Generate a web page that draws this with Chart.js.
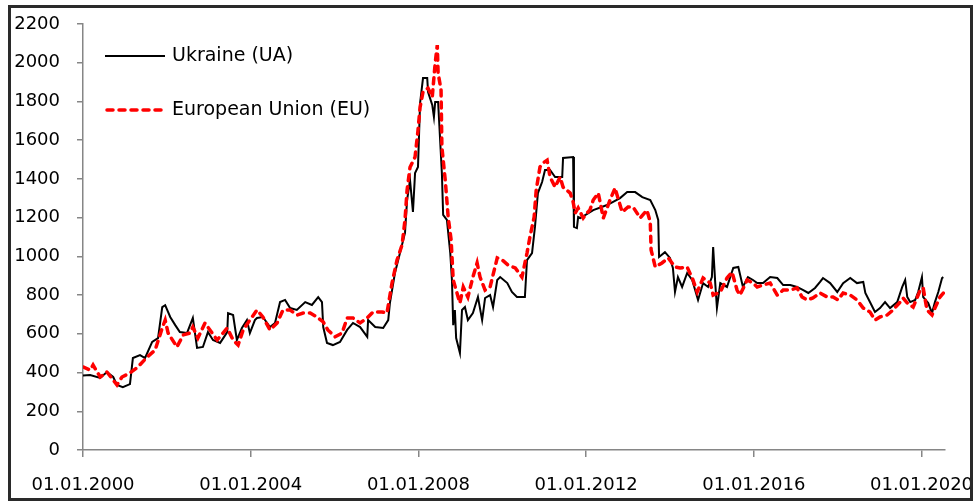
<!DOCTYPE html>
<html>
<head>
<meta charset="utf-8">
<script src="https://cdn.jsdelivr.net/npm/chart.js@4.4.1/dist/chart.umd.min.js"></script>
<style>
  html, body { margin: 0; padding: 0; background: #fff; }
  #wrap { width: 974px; height: 502px; }
</style>
</head>
<body>
<div id="wrap"><canvas id="grafica" width="974" height="502"></canvas></div>
<script>
// === DATOS ===
// fechas en años decimales
const fechasUA = [2000.00,2000.17,2000.41,2000.57,2000.72,2000.81,2000.95,2001.12,2001.19,2001.36,
  2001.48,2001.65,2001.79,2001.89,2001.96,2002.08,2002.20,2002.31,2002.48,2002.62,
  2002.72,2002.86,2002.98,2003.10,2003.27,2003.44,2003.46,2003.58,2003.67,2003.79,
  2003.91,2003.98,2004.10,2004.15,2004.29,2004.46,2004.58,2004.70,2004.82,2004.94,
  2005.10,2005.30,2005.46,2005.61,2005.70,2005.73,2005.82,2005.96,2006.13,2006.30,
  2006.44,2006.61,2006.78,2006.80,2006.97,2007.16,2007.28,2007.32,2007.44,2007.56,
  2007.68,2007.73,2007.80,2007.87,2007.92,2007.99,2008.04,2008.11,2008.21,2008.23,
  2008.33,2008.37,2008.40,2008.47,2008.56,2008.59,2008.68,2008.76,2008.80,2008.83,
  2008.87,2008.90,2008.99,2009.04,2009.11,2009.18,2009.30,2009.42,2009.52,2009.59,
  2009.71,2009.78,2009.88,2009.95,2010.12,2010.23,2010.35,2010.54,2010.59,2010.71,
  2010.78,2010.85,2010.95,2011.02,2011.14,2011.26,2011.43,2011.45,2011.69,2011.71,
  2011.78,2011.81,2011.86,2012.17,2012.50,2012.81,2012.98,2013.17,2013.34,2013.53,
  2013.65,2013.72,2013.74,2013.88,2014.00,2014.07,2014.12,2014.19,2014.29,2014.41,
  2014.53,2014.67,2014.79,2014.91,2015.00,2015.03,2015.08,2015.12,2015.20,2015.36,
  2015.51,2015.63,2015.74,2015.86,2015.98,2016.08,2016.22,2016.39,2016.56,2016.70,
  2016.87,2017.03,2017.18,2017.30,2017.46,2017.58,2017.65,2017.82,2017.99,2018.13,
  2018.30,2018.46,2018.61,2018.66,2018.77,2018.89,2019.01,2019.13,2019.25,2019.42,
  2019.54,2019.61,2019.66,2019.73,2019.85,2019.92,2020.01,2020.04,2020.16,2020.25,
  2020.32,2020.40,2020.49,2020.52];
const valoresUA = [385,387,372,403,377,336,325,340,475,490,
  475,558,578,738,748,687,645,609,604,682,
  527,532,609,568,553,609,707,697,568,630,
  671,604,671,682,687,635,656,764,775,733,
  723,764,749,790,764,635,553,542,558,620,
  656,635,584,671,635,630,671,759,914,1017,
  1121,1291,1394,1229,1430,1462,1792,1921,1921,1849,
  1782,1720,1797,1797,1430,1214,1188,1017,878,645,
  723,578,501,723,738,671,707,790,671,785,
  800,738,878,893,862,816,790,790,981,1017,
  1152,1327,1384,1446,1446,1410,1410,1508,1513,1152,
  1146,1203,1198,1239,1265,1301,1332,1332,1306,1291,
  1239,1188,997,1022,992,940,816,893,842,914,
  878,775,862,842,893,1048,862,733,862,842,
  940,945,842,893,878,862,862,893,888,852,
  852,842,826,811,837,868,888,862,816,862,
  888,862,868,811,764,713,733,764,733,764,
  842,878,790,764,775,816,893,790,759,707,
  764,816,888,893];

const fechasEU = [2000.00,2000.17,2000.24,2000.41,2000.57,2000.72,2000.81,2000.93,2001.12,2001.31,
  2001.53,2001.72,2001.89,2001.96,2002.03,2002.24,2002.39,2002.55,2002.62,2002.74,
  2002.91,2003.08,2003.20,2003.44,2003.58,2003.70,2003.82,2003.98,2004.15,2004.29,
  2004.46,2004.63,2004.77,2004.94,2005.11,2005.25,2005.42,2005.58,2005.73,2005.84,
  2006.01,2006.18,2006.30,2006.44,2006.61,2006.78,2006.92,2007.13,2007.25,2007.37,
  2007.49,2007.61,2007.68,2007.73,2007.80,2007.92,2007.99,2008.04,2008.11,2008.23,
  2008.33,2008.40,2008.45,2008.47,2008.54,2008.56,2008.64,2008.71,2008.78,2008.83,
  2008.92,2008.99,2009.07,2009.18,2009.30,2009.40,2009.47,2009.59,2009.71,2009.88,
  2010.00,2010.14,2010.31,2010.47,2010.59,2010.66,2010.76,2010.81,2010.90,2010.97,
  2011.07,2011.14,2011.26,2011.38,2011.45,2011.62,2011.69,2011.74,2011.81,2011.93,
  2012.02,2012.09,2012.17,2012.29,2012.41,2012.57,2012.69,2012.86,2013.00,2013.12,
  2013.29,2013.45,2013.53,2013.55,2013.65,2013.81,2013.96,2014.12,2014.24,2014.41,
  2014.55,2014.65,2014.79,2014.96,2015.03,2015.20,2015.36,2015.48,2015.60,2015.67,
  2015.84,2015.98,2016.08,2016.22,2016.39,2016.56,2016.70,2016.87,2017.03,2017.15,
  2017.27,2017.41,2017.58,2017.75,2017.89,2018.01,2018.13,2018.30,2018.46,2018.61,
  2018.77,2018.89,2019.01,2019.18,2019.32,2019.49,2019.56,2019.66,2019.80,2019.97,
  2020.04,2020.13,2020.25,2020.32,2020.44,2020.52];
const valoresEU = [429,413,439,377,403,361,336,377,398,429,
  480,516,630,671,604,532,594,604,635,578,
  656,604,568,630,568,542,620,671,723,687,
  620,656,723,723,697,707,707,687,661,620,
  584,604,682,682,656,682,713,713,707,862,
  981,1059,1188,1343,1460,1513,1650,1771,1849,1869,
  1823,1998,2091,1947,1859,1565,1394,1203,1085,878,
  811,759,842,790,893,966,893,826,842,992,
  981,955,940,893,1017,1100,1203,1343,1462,1482,
  1497,1410,1358,1410,1358,1327,1281,1224,1250,1198,
  1224,1239,1291,1327,1198,1291,1353,1229,1255,1255,
  1198,1239,1178,1033,945,966,992,945,940,945,
  878,816,888,862,800,816,888,919,826,800,
  878,862,842,852,862,800,826,826,837,790,
  775,785,811,790,790,775,811,800,775,733,
  713,671,687,697,723,764,785,759,738,826,
  837,723,697,733,790,810];

const nombres = ["Ukraine (UA)", "European Union (EU)"];
const ticksAnios = [2000, 2004, 2008, 2012, 2016, 2020];

const fuente = "'DejaVu Sans', sans-serif";

// marco exterior y leyenda dentro del área del gráfico
const marcoYLeyenda = {
  id: "marcoYLeyenda",
  afterDraw(chart) {
    const ctx = chart.ctx;
    ctx.save();
    // tapa lo que se salga del marco
    ctx.fillStyle = "#fff";
    ctx.fillRect(971, 0, 3, 502);
    ctx.strokeStyle = "#2a2a2a";
    ctx.lineWidth = 3;
    ctx.strokeRect(9.5, 6.5, 962, 493);

    // leyenda
    ctx.font = "19px " + fuente;
    ctx.textBaseline = "middle";
    ctx.fillStyle = "#000";

    ctx.strokeStyle = "#000";
    ctx.lineWidth = 2;
    ctx.beginPath();
    ctx.moveTo(105, 56);
    ctx.lineTo(165, 56);
    ctx.stroke();
    ctx.fillText(nombres[0], 172, 56);

    ctx.strokeStyle = "#ff0000";
    ctx.lineWidth = 3.5;
    ctx.lineCap = "round";
    ctx.setLineDash([6, 6]);
    ctx.beginPath();
    ctx.moveTo(107, 110);
    ctx.lineTo(165, 110);
    ctx.stroke();
    ctx.setLineDash([]);
    ctx.fillText(nombres[1], 172, 110);
    ctx.restore();
  }
};

const ctx = document.getElementById("grafica").getContext("2d");

new Chart(ctx, {
  type: "line",
  data: {
    datasets: [
      {
        label: nombres[1],
        data: fechasEU.map((f, i) => ({ x: f, y: valoresEU[i] })),
        borderColor: "#ff0000",
        borderWidth: 3.5,
        borderDash: [6, 6],
        borderCapStyle: "round",
        pointRadius: 0,
        tension: 0,
        order: 0
      },
      {
        label: nombres[0],
        data: fechasUA.map((f, i) => ({ x: f, y: valoresUA[i] })),
        borderColor: "#000000",
        borderWidth: 2,
        pointRadius: 0,
        tension: 0,
        order: 1
      }
    ]
  },
  options: {
    responsive: false,
    animation: false,
    layout: { padding: { left: 0, right: 29, top: 24, bottom: 0 } },
    plugins: {
      legend: { display: false },
      tooltip: { enabled: false }
    },
    scales: {
      x: {
        type: "linear",
        min: 2000,
        max: 2020.56,
        border: { color: "#868686", width: 1.5 },
        grid: { drawOnChartArea: false, tickLength: 7, color: "#868686", lineWidth: 1.5 },
        afterBuildTicks: axis => { axis.ticks = ticksAnios.map(v => ({ value: v })); },
        afterFit: axis => {
          axis.height = 52;
          axis.paddingLeft = 0;
          axis.paddingRight = 0;
        },
        ticks: {
          color: "#000",
          font: { family: fuente, size: 18 },
          padding: 18,
          maxRotation: 0,
          autoSkip: false,
          callback: v => "01.01." + v
        }
      },
      y: {
        min: 0,
        max: 2200,
        border: { color: "#868686", width: 1.5 },
        grid: { drawOnChartArea: false, tickLength: 6, color: "#868686", lineWidth: 1.5 },
        afterFit: axis => {
          axis.width = 83;
          axis.paddingTop = 0;
          axis.paddingBottom = 0;
        },
        ticks: {
          stepSize: 200,
          color: "#000",
          font: { family: fuente, size: 18 },
          padding: 17,
          callback: v => String(v)
        }
      }
    }
  },
  plugins: [marcoYLeyenda]
});
</script>
</body>
</html>
